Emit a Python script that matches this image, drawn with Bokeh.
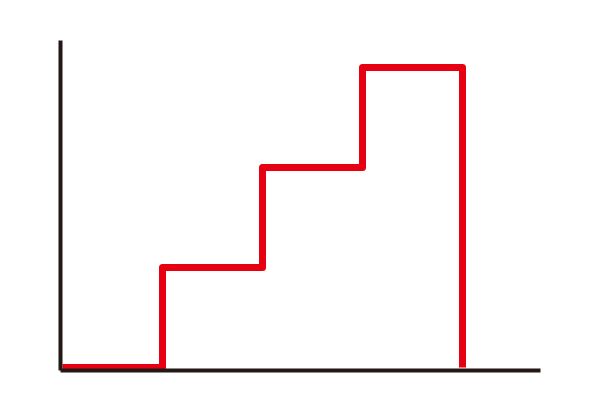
from bokeh.plotting import figure
from bokeh.models import Range1d, FixedTicker
from bokeh.embed import file_html
from bokeh.resources import INLINE

# Step data: level holds from each x until the next x
step_x = [0, 1, 2, 3, 4]
step_y = [0, 1, 2, 3, 0]

p = figure(width=584, height=384, output_backend="svg", toolbar_location=None,
           x_range=Range1d(-0.02, 4.78), y_range=Range1d(-0.03, 3.27),
           min_border_left=60, min_border_right=44, min_border_top=40, min_border_bottom=14)
p.outline_line_color = None
p.grid.visible = False
p.background_fill_color = "white"
p.border_fill_color = "white"

p.step(x=step_x, y=step_y, mode="after", line_color="#E60012", line_width=7,
       line_join="round", line_cap="butt")

for ax in (p.xaxis[0], p.yaxis[0]):
    ax.ticker = FixedTicker(ticks=[])
    ax.major_tick_line_color = None
    ax.minor_tick_line_color = None
    ax.major_label_text_color = None
    ax.axis_line_color = "#231815"
    ax.axis_line_width = 4

open("out.html", "w").write(file_html(p, INLINE))
